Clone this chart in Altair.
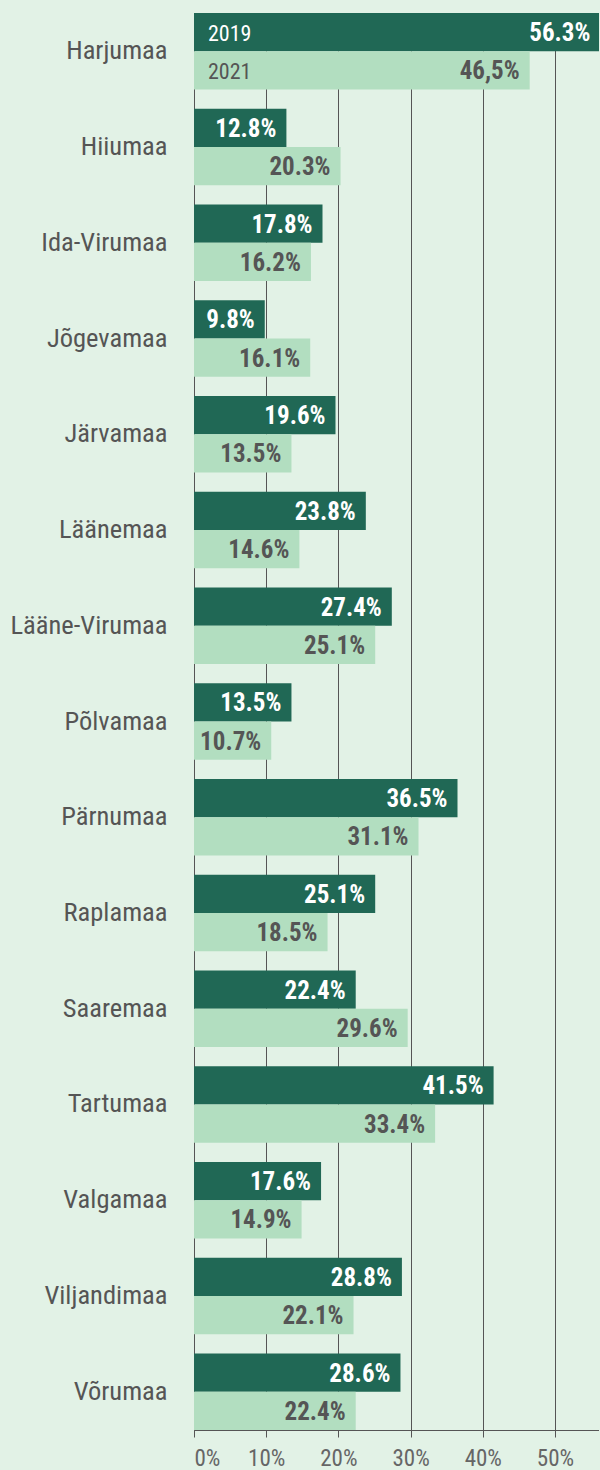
import altair as alt
import pandas as pd

counties = ["Harjumaa", "Hiiumaa", "Ida-Virumaa", "Jõgevamaa", "Järvamaa", "Läänemaa",
            "Lääne-Virumaa", "Põlvamaa", "Pärnumaa", "Raplamaa", "Saaremaa", "Tartumaa",
            "Valgamaa", "Viljandimaa", "Võrumaa"]
v2019 = [56.3, 12.8, 17.8, 9.8, 19.6, 23.8, 27.4, 13.5, 36.5, 25.1, 22.4, 41.5, 17.6, 28.8, 28.6]
v2021 = [46.5, 20.3, 16.2, 16.1, 13.5, 14.6, 25.1, 10.7, 31.1, 18.5, 29.6, 33.4, 14.9, 22.1, 22.4]
l2019 = ["56.3%", "12.8%", "17.8%", "9.8%", "19.6%", "23.8%", "27.4%", "13.5%", "36.5%",
         "25.1%", "22.4%", "41.5%", "17.6%", "28.8%", "28.6%"]
l2021 = ["46,5%", "20.3%", "16.2%", "16.1%", "13.5%", "14.6%", "25.1%", "10.7%", "31.1%",
         "18.5%", "29.6%", "33.4%", "14.9%", "22.1%", "22.4%"]
years = ["2019", "2021"]
x_ticks = [0, 10, 20, 30, 40, 50]

rows = []
for i, c in enumerate(counties):
    rows.append({"county": c, "year": years[0], "value": v2019[i], "label": l2019[i]})
    rows.append({"county": c, "year": years[1], "value": v2021[i], "label": l2021[i]})
df = pd.DataFrame(rows)

FONT = "Roboto Condensed, Liberation Sans Narrow, Arial Narrow, DejaVu Sans Condensed, Roboto, sans-serif"
BG = "#e2f2e6"
DARK = "#206855"
LIGHT = "#b2dec0"
GREY = "#555555"

# page background to match the reference (no margins, no scrollbars, no svg shrinking)
try:
    import altair.utils.html as _h
    _orig = _h.TEMPLATES["standard"]

    class _Wrap:
        def render(self, **kw):
            html = _orig.render(**kw)
            css = ("<style>html,body{background:%s;overflow:hidden;margin:0;padding:0;}"
                   ".vega-embed svg{flex-shrink:0;}</style>" % BG)
            if "</head>" in html:
                return html.replace("</head>", css + "</head>", 1)
            return html
    _h.TEMPLATES["standard"] = _Wrap()
except Exception:
    pass

y_enc = alt.Y("county:N", sort=counties,
              scale=alt.Scale(paddingInner=0.2, paddingOuter=0),
              axis=alt.Axis(title=None, ticks=False, labelFontSize=26.5, labelColor=GREY,
                            labelFont=FONT, labelPadding=27, minExtent=182, maxExtent=182,
                            domain=True, domainColor=GREY, grid=False))
yoff = alt.YOffset("year:N", sort=years, scale=alt.Scale(paddingInner=0, paddingOuter=0))
x_enc = alt.X("value:Q", scale=alt.Scale(domain=[0, 56.1], nice=False),
              axis=alt.Axis(title=None, values=x_ticks, labelExpr="datum.value + '%'",
                            grid=True, gridColor=GREY, gridWidth=1, tickColor=GREY,
                            tickSize=7, domainColor=GREY, labelFontSize=23,
                            labelColor="#666666", labelFont=FONT, labelPadding=10))

base = alt.Chart(df)

bars = base.mark_bar(clip=True).encode(
    x=x_enc, y=y_enc, yOffset=yoff,
    color=alt.condition("datum.year == '2019'", alt.value(DARK), alt.value(LIGHT)),
)

values = base.mark_text(align="right", baseline="middle", dx=-10, dy=1,
                        fontSize=25, fontWeight="bold", font=FONT).encode(
    x="value:Q", y=alt.Y("county:N", sort=counties), yOffset=yoff, text="label:N",
    color=alt.condition("datum.year == '2019'", alt.value("white"), alt.value(GREY)),
)

year_lbl = base.transform_filter(alt.datum.county == counties[0]).mark_text(
    align="left", baseline="middle", dx=14, dy=2, fontSize=22, font=FONT).encode(
    x=alt.datum(0), y=alt.Y("county:N", sort=counties), yOffset=yoff, text="year:N",
    color=alt.condition("datum.year == '2019'", alt.value("white"), alt.value(GREY)),
)

chart = alt.layer(bars, values, year_lbl).properties(
    width=405, height=1417,
    padding={"left": 10, "top": 13, "right": 0, "bottom": 0},
    background=BG,
).configure_view(stroke=None)

chart.save("out.html", embed_options={"renderer": "svg", "actions": False})
